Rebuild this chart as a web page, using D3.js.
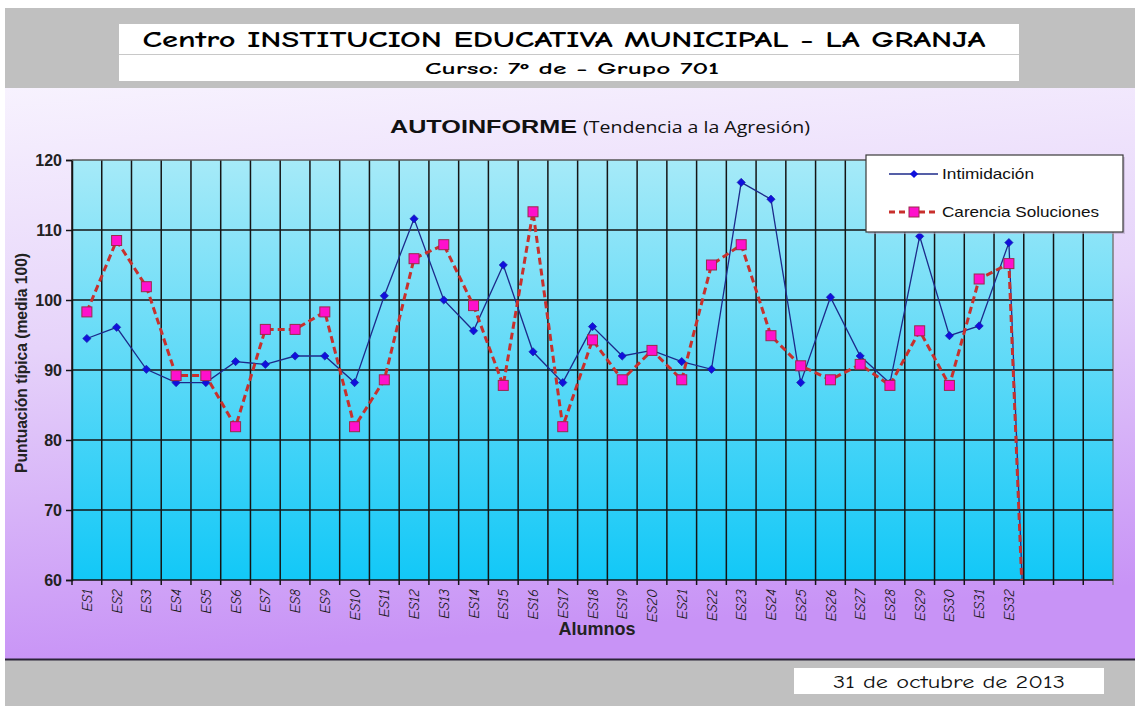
<!DOCTYPE html>
<html>
<head>
<meta charset="utf-8">
<script src="https://cdn.jsdelivr.net/npm/d3@7"></script>
<style>
  body { margin: 0; background: #fff; }
  svg { display: block; }
</style>
</head>
<body>
<svg id="chart" width="1135" height="706"></svg>
<script>
// Data
const alumnos = ["ES1","ES2","ES3","ES4","ES5","ES6","ES7","ES8","ES9","ES10","ES11","ES12","ES13","ES14","ES15","ES16",
  "ES17","ES18","ES19","ES20","ES21","ES22","ES23","ES24","ES25","ES26","ES27","ES28","ES29","ES30","ES31","ES32"];
const nSlots = 35; // three empty slots after ES32
const intimidacion = [94.5, 96.1, 90.1, 88.2, 88.2, 91.2, 90.8, 92.0, 92.0, 88.2, 100.6, 111.6, 100.0, 95.6, 105.0, 92.6,
  88.2, 96.2, 92.0, 92.8, 91.2, 90.1, 116.8, 114.4, 88.2, 100.4, 92.0, 88.1, 109.1, 94.9, 96.3, 108.2, 0];
const carencia = [98.3, 108.5, 101.9, 89.2, 89.2, 81.9, 95.8, 95.8, 98.3, 81.9, 88.6, 105.9, 107.9, 99.2, 87.8, 112.6,
  81.9, 94.3, 88.6, 92.8, 88.6, 105.0, 107.9, 94.9, 90.6, 88.6, 90.8, 87.8, 95.6, 87.8, 103.0, 105.2, 0];
const yTicks = [60, 70, 80, 90, 100, 110, 120];

const comic = "'Comic Sans MS', 'Comic Neue', 'DejaVu Sans', sans-serif";
const arial = "Arial, 'Liberation Sans', sans-serif";
const narrow = "'Liberation Sans Narrow', 'Arial Narrow', Arial, sans-serif";

const svg = d3.select("#chart");
const defs = svg.append("defs");

// gradients
const bg = defs.append("linearGradient").attr("id", "bgGrad")
  .attr("x1", 0).attr("y1", 0).attr("x2", 0.15).attr("y2", 1);
bg.append("stop").attr("offset", "0%").attr("stop-color", "#f7f2fe");
bg.append("stop").attr("offset", "45%").attr("stop-color", "#e6d3fa");
bg.append("stop").attr("offset", "100%").attr("stop-color", "#c893f6");

const pg = defs.append("linearGradient").attr("id", "plotGrad")
  .attr("x1", 0).attr("y1", 0).attr("x2", 0).attr("y2", 1);
pg.append("stop").attr("offset", "0%").attr("stop-color", "#a6eaf8");
pg.append("stop").attr("offset", "100%").attr("stop-color", "#12c8f7");

// frame: gray bands + lavender area
svg.append("rect").attr("x", 5).attr("y", 8).attr("width", 1130).attr("height", 80).attr("fill", "#c0c0c0");
svg.append("rect").attr("x", 5).attr("y", 88).attr("width", 1130).attr("height", 571).attr("fill", "url(#bgGrad)");
svg.append("rect").attr("x", 5).attr("y", 660).attr("width", 1130).attr("height", 46).attr("fill", "#c0c0c0");
svg.append("line").attr("x1", 5).attr("x2", 1135).attr("y1", 659.5).attr("y2", 659.5)
  .attr("stroke", "#2a2438").attr("stroke-width", 2);

// header box
svg.append("rect").attr("x", 119).attr("y", 24).attr("width", 900).attr("height", 57).attr("fill", "#fff");
svg.append("line").attr("x1", 119).attr("x2", 1019).attr("y1", 54.5).attr("y2", 54.5)
  .attr("stroke", "#c8c8c8").attr("stroke-width", 1);
svg.append("text").attr("x", 564).attr("y", 47).attr("text-anchor", "middle")
  .attr("font-family", comic).attr("font-weight", "bold").attr("font-size", 22)
  .attr("textLength", 843).attr("lengthAdjust", "spacingAndGlyphs")
  .attr("fill", "#000")
  .text("Centro  INSTITUCION EDUCATIVA MUNICIPAL - LA GRANJA");
svg.append("text").attr("x", 572).attr("y", 74).attr("text-anchor", "middle")
  .attr("font-family", comic).attr("font-weight", "bold").attr("font-size", 16)
  .attr("textLength", 294).attr("lengthAdjust", "spacingAndGlyphs")
  .attr("fill", "#000")
  .text("Curso: 7º de  - Grupo 701");

// date box
svg.append("rect").attr("x", 794).attr("y", 668).attr("width", 310).attr("height", 26).attr("fill", "#fff");
svg.append("text").attr("x", 949).attr("y", 688).attr("text-anchor", "middle")
  .attr("font-family", comic).attr("font-size", 18)
  .attr("textLength", 232).attr("lengthAdjust", "spacingAndGlyphs")
  .attr("fill", "#111")
  .text("31 de octubre de 2013");

// plot geometry
const margin = { top: 160, left: 72, right: 1113, bottom: 580 };
const width = margin.right - margin.left;
const height = margin.bottom - margin.top;

const x = d3.scaleBand().domain(d3.range(nSlots)).range([0, width]).padding(0);
const y = d3.scaleLinear().domain([60, 120]).range([height, 0]);

const g = svg.append("g").attr("transform", "translate(" + margin.left + "," + margin.top + ")");

defs.append("clipPath").attr("id", "plotClip")
  .append("rect").attr("x", 0).attr("y", 0).attr("width", width).attr("height", height);

g.append("rect").attr("width", width).attr("height", height).attr("fill", "url(#plotGrad)");

// vertical grid at slot boundaries (with tick marks below the axis)
const bounds = d3.range(nSlots + 1);
g.append("g").attr("class", "vgrid")
  .selectAll("line").data(bounds).enter().append("line")
  .attr("x1", (d) => (d < nSlots ? x(d) : width))
  .attr("x2", (d) => (d < nSlots ? x(d) : width))
  .attr("y1", 0).attr("y2", height + 5)
  .attr("stroke", (d) => (d === nSlots ? "#7a7a7a" : "#141414"))
  .attr("stroke-width", 1.5);

// horizontal grid + y axis
const yAxis = d3.axisLeft(y).tickValues(yTicks).tickSize(6).tickPadding(4);
const ya = g.append("g").attr("class", "y axis").call(yAxis);
ya.select(".domain").attr("stroke", "#141414").attr("stroke-width", 1.5);
ya.selectAll(".tick line").attr("stroke", "#141414").attr("stroke-width", 1.5);
ya.selectAll(".tick text").attr("font-family", arial).attr("font-weight", "bold")
  .attr("font-size", 16).attr("fill", "#222");

g.append("g").attr("class", "hgrid")
  .selectAll("line").data(yTicks).enter().append("line")
  .attr("x1", 0).attr("x2", width)
  .attr("y1", (d) => y(d)).attr("y2", (d) => y(d))
  .attr("stroke", (d) => (d === 120 ? "#555" : "#141414"))
  .attr("stroke-width", 1.5);

// x axis labels
const xAxis = d3.axisBottom(x).tickSize(0).tickFormat((i) => alumnos[i] || "");
const xa = g.append("g").attr("class", "x axis")
  .attr("transform", "translate(0," + height + ")").call(xAxis);
xa.select(".domain").remove();
xa.selectAll(".tick text")
  .attr("transform", "rotate(-90)")
  .attr("text-anchor", "end")
  .attr("x", -9).attr("y", 0).attr("dy", "0.35em")
  .attr("font-family", comic).attr("font-style", "italic")
  .attr("font-size", 14.5).attr("fill", "#1a1a1a");

// axis titles
svg.append("text").attr("x", 597).attr("y", 635).attr("text-anchor", "middle")
  .attr("font-family", narrow).attr("font-weight", "bold").attr("font-size", 18)
  .attr("fill", "#222").text("Alumnos");
svg.append("text").attr("transform", "translate(27,363) rotate(-90)")
  .attr("text-anchor", "middle")
  .attr("font-family", narrow)
  .attr("font-weight", "bold").attr("font-size", 16)
  .attr("textLength", 220).attr("lengthAdjust", "spacingAndGlyphs")
  .attr("fill", "#222").text("Puntuación típica (media 100)");

// chart title
const title = svg.append("text").attr("y", 133).attr("fill", "#111");
title.append("tspan").attr("x", 390).attr("font-family", arial).attr("font-weight", "bold").attr("font-size", 19)
  .attr("textLength", 187).attr("lengthAdjust", "spacingAndGlyphs")
  .text("AUTOINFORME");
title.append("tspan").attr("x", 583).attr("font-family", "'Open Sans', Calibri, sans-serif").attr("font-size", 15.5)
  .attr("textLength", 227).attr("lengthAdjust", "spacingAndGlyphs")
  .text("(Tendencia a la Agresión)");

// series
const cx = (d, i) => x(i) + x.bandwidth() / 2;
const lineGen = d3.line().x(cx).y((d) => y(d));

const plot = g.append("g").attr("clip-path", "url(#plotClip)");

plot.append("path").datum(intimidacion)
  .attr("d", lineGen).attr("fill", "none")
  .attr("stroke", "#1c2a8a").attr("stroke-width", 1.3);

plot.append("path").datum(carencia)
  .attr("d", lineGen).attr("fill", "none")
  .attr("stroke", "#c8302c").attr("stroke-width", 3)
  .attr("stroke-dasharray", "7,4");

const diamond = d3.symbol().type(d3.symbolSquare).size(34);
plot.selectAll(".dia").data(intimidacion).enter().append("path")
  .attr("class", "dia")
  .attr("d", diamond)
  .attr("transform", (d, i) => "translate(" + cx(d, i) + "," + y(d) + ") rotate(45)")
  .attr("fill", "#1010dc").attr("stroke", "#1a1aa0").attr("stroke-width", 0.6);

plot.selectAll(".sq").data(carencia).enter().append("rect")
  .attr("class", "sq")
  .attr("x", (d, i) => cx(d, i) - 5).attr("y", (d) => y(d) - 5)
  .attr("width", 10).attr("height", 10)
  .attr("fill", "#ff10cc").attr("stroke", "#9a2a4a").attr("stroke-width", 1);

// legend
const lg = svg.append("g").attr("transform", "translate(866,155)");
lg.append("rect").attr("x", 2).attr("y", 2).attr("width", 257).attr("height", 77).attr("fill", "#b8a8c8").attr("opacity", 0.6);
lg.append("rect").attr("width", 257).attr("height", 77).attr("fill", "#fff")
  .attr("stroke", "#3a3a3a").attr("stroke-width", 1.2);
const items = [
  { name: "Intimidación", y: 19, type: "dia", w: 92 },
  { name: "Carencia Soluciones", y: 57, type: "sq", w: 157 },
];
items.forEach((it) => {
  const row = lg.append("g").attr("transform", "translate(0," + it.y + ")");
  if (it.type === "dia") {
    row.append("line").attr("x1", 23).attr("x2", 72).attr("stroke", "#1c2a8a").attr("stroke-width", 1.3);
    row.append("path").attr("d", diamond).attr("transform", "translate(48,0) rotate(45)")
      .attr("fill", "#1010dc");
  } else {
    row.append("line").attr("x1", 23).attr("x2", 72).attr("stroke", "#c8302c")
      .attr("stroke-width", 3).attr("stroke-dasharray", "6,4");
    row.append("rect").attr("x", 43).attr("y", -5).attr("width", 10).attr("height", 10)
      .attr("fill", "#ff10cc").attr("stroke", "#9a2a4a");
  }
  row.append("text").attr("x", 76).attr("y", 0).attr("dy", "0.35em")
    .attr("font-family", arial).attr("font-size", 14.5).attr("fill", "#111")
    .attr("textLength", it.w).attr("lengthAdjust", "spacingAndGlyphs")
    .text(it.name);
});
</script>
</body>
</html>
